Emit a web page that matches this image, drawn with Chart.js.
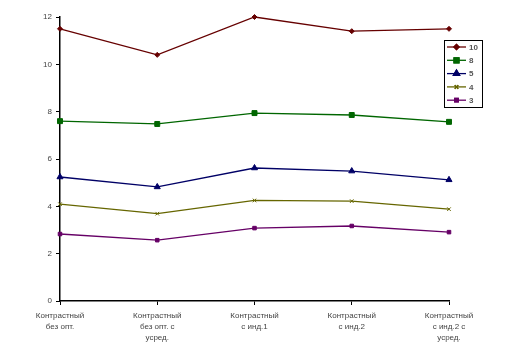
<!DOCTYPE html>
<html>
<head>
<meta charset="utf-8">
<script src="https://cdn.jsdelivr.net/npm/chart.js@4.4.0/dist/chart.umd.min.js"></script>
<style>
  html, body { margin: 0; padding: 0; background: #fff; }
  #wrap { width: 510px; height: 354px; position: relative; }
</style>
</head>
<body>
<div id="wrap"><canvas id="chart"></canvas></div>
<script>
const categories = [
  ['Контрастный', 'без опт.'],
  ['Контрастный', 'без опт. с', 'усред.'],
  ['Контрастный', 'с инд.1'],
  ['Контрастный', 'с инд.2'],
  ['Контрастный', 'с инд.2 с', 'усред.'],
];
const seriesNames = ['10', '8', '5', '4', '3'];
const s10 = [11.5, 10.4, 12.0, 11.4, 11.5];
const s8 = [7.6, 7.48, 7.94, 7.86, 7.57];
const s5 = [5.24, 4.82, 5.62, 5.49, 5.12];
const s4 = [4.09, 3.69, 4.25, 4.22, 3.88];
const s3 = [2.83, 2.57, 3.08, 3.17, 2.91];
const yTicks = [0, 2, 4, 6, 8, 10, 12];

const colors = {
  maroon: '#660000',
  green: '#006600',
  navy: '#000066',
  olive: '#666600',
  purple: '#660066',
};
const styles = [
  { color: colors.maroon, point: 'rectRot', r: 2.5 },
  { color: colors.green, point: 'rect', r: 3.5 },
  { color: colors.navy, point: 'triangle', r: 3.5 },
  { color: colors.olive, point: 'crossRot', r: 2.5 },
  { color: colors.purple, point: 'rect', r: 2.5 },
];
const values = [s10, s8, s5, s4, s3];

const datasets = values.map((d, i) => ({
  label: seriesNames[i],
  data: d,
  borderColor: styles[i].color,
  backgroundColor: styles[i].color,
  borderWidth: 1.3,
  pointStyle: styles[i].point,
  pointRadius: styles[i].r,
  pointBorderWidth: 1,
  tension: 0,
  clip: false,
}));

// legend box drawn by hand, Excel style (line + marker)
const excelLegend = {
  id: 'excelLegend',
  afterDraw(chart) {
    const ctx = chart.ctx;
    const x = 444, y = 40, w = 38, h = 67;
    ctx.save();
    ctx.fillStyle = '#fff';
    ctx.fillRect(x, y, w, h);
    ctx.strokeStyle = '#000';
    ctx.lineWidth = 1;
    ctx.strokeRect(x + 0.5, y + 0.5, w, h);
    datasets.forEach((ds, i) => {
      const cy = y + 7 + i * 13.3;
      ctx.strokeStyle = ds.borderColor;
      ctx.lineWidth = 1.3;
      ctx.beginPath();
      ctx.moveTo(x + 3, cy);
      ctx.lineTo(x + 22, cy);
      ctx.stroke();
      Chart.helpers.drawPoint(ctx, {
        pointStyle: ds.pointStyle,
        radius: ds.pointRadius,
        rotation: 0,
        borderWidth: 1,
      }, x + 12.5, cy);
      ctx.fillStyle = ds.borderColor;
      ctx.fill();
      ctx.stroke();
      ctx.fillStyle = '#555';
      ctx.font = 'bold 8px "Liberation Sans", Arial, sans-serif';
      ctx.textBaseline = 'middle';
      ctx.fillText(ds.label, x + 25, cy + 0.5);
    });
    ctx.restore();
  },
};

new Chart(document.getElementById('chart'), {
  type: 'line',
  data: { labels: categories, datasets },
  options: {
    responsive: true,
    maintainAspectRatio: false,
    animation: false,
    layout: { padding: { top: 17, right: 61, left: 0, bottom: 0 } },
    plugins: {
      legend: { display: false },
      tooltip: { enabled: false },
    },
    scales: {
      x: {
        offset: false,
        grid: {
          display: true,
          drawOnChartArea: false,
          drawTicks: true,
          tickLength: 4,
          color: '#000',
        },
        border: { color: '#000', width: 1.5 },
        ticks: {
          color: '#444',
          font: { family: '"Liberation Sans", Arial, sans-serif', size: 8, lineHeight: 1.4 },
          maxRotation: 0,
          autoSkip: false,
          padding: 5,
        },
        afterFit: (scale) => { scale.height = 53; },
      },
      y: {
        min: 0,
        max: 12,
        afterBuildTicks: (scale) => { scale.ticks = yTicks.map((v) => ({ value: v })); },
        grid: {
          display: true,
          drawOnChartArea: false,
          drawTicks: true,
          tickLength: 4,
          color: '#000',
        },
        border: { color: '#000', width: 1.5 },
        ticks: {
          color: '#444',
          font: { family: '"Liberation Sans", Arial, sans-serif', size: 8 },
          padding: 4,
        },
        afterFit: (scale) => { scale.width = 60; },
      },
    },
  },
  plugins: [excelLegend],
});
</script>
</body>
</html>
